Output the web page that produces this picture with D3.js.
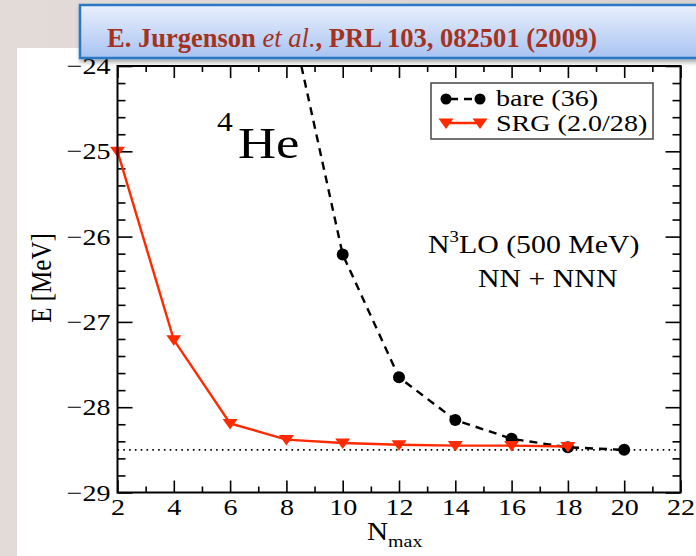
<!DOCTYPE html>
<html>
<head>
<meta charset="utf-8">
<script src="https://cdn.jsdelivr.net/npm/d3@7"></script>
<style>
  body { margin: 0; background: #ddd6d3; }
  svg { display: block; }
  text { font-family: "Liberation Serif", "DejaVu Serif", serif; }
</style>
</head>
<body>
<svg width="696" height="556"></svg>
<script>
// data
var srgN = [2, 4, 6, 8, 10, 12, 14, 16, 18];
var srgE = [-25.00, -27.21, -28.19, -28.38, -28.42, -28.44, -28.45, -28.45, -28.46];
var bareN = [8, 10, 12, 14, 16, 18, 20];
var bareE = [-23.2, -26.21, -27.65, -28.15, -28.37, -28.47, -28.50];
var xMajor = [2, 4, 6, 8, 10, 12, 14, 16, 18, 20, 22];
var yMajor = [-29, -28, -27, -26, -25, -24];
var converged = -28.5;

var width = 696, height = 556;
var plot = {left: 117.5, right: 680.5, top: 66, bottom: 492.5};
var sx = 1.17; // the slide image is a bit stretched sideways

var svg = d3.select('svg');

// slide background + white panel
var defs = svg.append('defs');
var bg = defs.append('linearGradient').attr('id', 'bg').attr('x1', 0).attr('x2', 1).attr('y1', 0).attr('y2', 0);
bg.append('stop').attr('offset', '0%').attr('stop-color', '#e2dbd8');
bg.append('stop').attr('offset', '100%').attr('stop-color', '#d8d1ce');
var tb = defs.append('linearGradient').attr('id', 'tb').attr('x1', 0).attr('x2', 0).attr('y1', 0).attr('y2', 1);
tb.append('stop').attr('offset', '0%').attr('stop-color', '#eaf0fd');
tb.append('stop').attr('offset', '100%').attr('stop-color', '#a8c3f1');
var sh = defs.append('filter').attr('id', 'sh').attr('x', '-10%').attr('y', '-20%').attr('width', '130%').attr('height', '160%');
sh.append('feDropShadow').attr('dx', 1).attr('dy', 3).attr('stdDeviation', 2).attr('flood-color', '#000').attr('flood-opacity', 0.35);
defs.append('clipPath').attr('id', 'clip').append('rect')
  .attr('x', plot.left).attr('y', plot.top)
  .attr('width', plot.right - plot.left).attr('height', plot.bottom - plot.top);

svg.append('rect').attr('width', width).attr('height', height).attr('fill', 'url(#bg)');
svg.append('rect').attr('x', 17).attr('y', 48).attr('width', width - 17).attr('height', height - 48).attr('fill', '#fff');

// scales
var xScale = d3.scaleLinear().domain([2, 22]).range([plot.left, plot.right]);
var yScale = d3.scaleLinear().domain([-29, -24]).range([plot.bottom, plot.top]);

var xMinor = d3.range(3, 22, 2);
var yMinor = d3.range(-29, -24.01, 0.2).filter(v => Math.abs(v - Math.round(v)) > 0.01);

function styleAxis(g) {
  g.select('.domain').remove();
  g.selectAll('line').attr('stroke', '#000').attr('stroke-width', 1.6);
  g.selectAll('text').attr('font-size', 24).attr('fill', '#000');
}

// bottom
svg.append('g').attr('transform', 'translate(0,' + plot.bottom + ')')
  .call(d3.axisBottom(xScale).tickValues(xMajor).tickSize(-12).tickPadding(5).tickFormat(d3.format('d')))
  .call(styleAxis)
  .call(g => g.selectAll('text').attr('transform', 'scale(' + sx + ',1)'));
svg.append('g').attr('transform', 'translate(0,' + plot.bottom + ')')
  .call(d3.axisBottom(xScale).tickValues(xMinor).tickSize(-6).tickFormat(''))
  .call(styleAxis);
// top
svg.append('g').attr('transform', 'translate(0,' + plot.top + ')')
  .call(d3.axisTop(xScale).tickValues(xMajor).tickSize(-12).tickFormat(''))
  .call(styleAxis);
svg.append('g').attr('transform', 'translate(0,' + plot.top + ')')
  .call(d3.axisTop(xScale).tickValues(xMinor).tickSize(-6).tickFormat(''))
  .call(styleAxis);
// left
svg.append('g').attr('transform', 'translate(' + plot.left + ',0)')
  .call(d3.axisLeft(yScale).tickValues(yMajor).tickSize(-15).tickPadding(7).tickFormat(d3.format('d')))
  .call(styleAxis)
  .call(g => g.selectAll('text').attr('transform', 'scale(' + sx + ',1)').attr('x', -7 / sx));
svg.append('g').attr('transform', 'translate(' + plot.left + ',0)')
  .call(d3.axisLeft(yScale).tickValues(yMinor).tickSize(-8).tickFormat(''))
  .call(styleAxis);
// right
svg.append('g').attr('transform', 'translate(' + plot.right + ',0)')
  .call(d3.axisRight(yScale).tickValues(yMajor).tickSize(-15).tickFormat(''))
  .call(styleAxis);
svg.append('g').attr('transform', 'translate(' + plot.right + ',0)')
  .call(d3.axisRight(yScale).tickValues(yMinor).tickSize(-8).tickFormat(''))
  .call(styleAxis);

// converged value
svg.append('line')
  .attr('x1', plot.left).attr('x2', plot.right)
  .attr('y1', yScale(converged)).attr('y2', yScale(converged))
  .attr('stroke', '#000').attr('stroke-width', 1.6).attr('stroke-dasharray', '1.6,4.2');

// bare (36)
var bare = bareN.map((n, i) => ({n: n, e: bareE[i]}));
var line = d3.line().x(d => xScale(d.n)).y(d => yScale(d.e));
var clipped = svg.append('g').attr('clip-path', 'url(#clip)');
clipped.append('path').datum(bare)
  .attr('d', line).attr('fill', 'none')
  .attr('stroke', '#000').attr('stroke-width', 2.4).attr('stroke-dasharray', '8,6');
clipped.selectAll('circle').data(bare).enter().append('circle')
  .attr('cx', d => xScale(d.n)).attr('cy', d => yScale(d.e)).attr('r', 6).attr('fill', '#000');

// SRG (2.0/28)
var srg = srgN.map((n, i) => ({n: n, e: srgE[i]}));
var red = '#ff2a00';
var tri = 'M-7.5,-4.5L7.5,-4.5L0,6Z';
svg.append('path').datum(srg)
  .attr('d', line).attr('fill', 'none').attr('stroke', red).attr('stroke-width', 2.4);
svg.selectAll('.tri').data(srg).enter().append('path').attr('class', 'tri')
  .attr('d', tri).attr('fill', red)
  .attr('transform', d => 'translate(' + xScale(d.n) + ',' + yScale(d.e) + ')');

// frame
svg.append('rect')
  .attr('x', plot.left).attr('y', plot.top)
  .attr('width', plot.right - plot.left).attr('height', plot.bottom - plot.top)
  .attr('fill', 'none').attr('stroke', '#000').attr('stroke-width', 2);

// legend
svg.append('rect').attr('x', 431).attr('y', 83).attr('width', 222).attr('height', 56)
  .attr('fill', '#fff').attr('stroke', '#444').attr('stroke-width', 1.5);
svg.append('line').attr('x1', 446).attr('x2', 480).attr('y1', 99).attr('y2', 99)
  .attr('stroke', '#000').attr('stroke-width', 2.4).attr('stroke-dasharray', '8,6').attr('stroke-dashoffset', -4);
[446, 480].forEach(cx => svg.append('circle').attr('cx', cx).attr('cy', 99).attr('r', 5.5).attr('fill', '#000'));
svg.append('line').attr('x1', 446).attr('x2', 480).attr('y1', 123).attr('y2', 123)
  .attr('stroke', red).attr('stroke-width', 2.4);
[446, 480].forEach(cx => svg.append('path').attr('d', tri).attr('fill', red)
  .attr('transform', 'translate(' + cx + ',123)'));

function label(x, y, size, str) {
  return svg.append('text')
    .attr('transform', 'translate(' + x + ',' + y + ') scale(' + sx + ',1)')
    .attr('font-size', size).attr('fill', '#000').text(str);
}
label(496, 106, 24, 'bare (36)');
label(496, 131, 24, 'SRG (2.0/28)');

// annotations
label(217, 131, 27, '4');
label(238, 158, 45, 'He');

var t1 = svg.append('text')
  .attr('transform', 'translate(428,253) scale(' + sx + ',1)')
  .attr('font-size', 25.5).attr('fill', '#000');
t1.append('tspan').text('N');
t1.append('tspan').attr('font-size', 16).attr('dy', -11).text('3');
t1.append('tspan').attr('dy', 11).text('LO (500 MeV)');
label(478, 287, 25.5, 'NN + NNN');

// axis titles
svg.append('text')
  .attr('transform', 'translate(51,278) rotate(-90) scale(1,' + sx + ')')
  .attr('text-anchor', 'middle').attr('font-size', 25).attr('fill', '#000')
  .text('E [MeV]');
var xl = svg.append('text')
  .attr('transform', 'translate(367,540) scale(' + sx + ',1)')
  .attr('font-size', 25).attr('fill', '#000');
xl.append('tspan').text('N');
xl.append('tspan').attr('font-size', 17).attr('dy', 7).text('max');

// title box on top of the slide
svg.append('rect').attr('x', 80).attr('y', 5).attr('width', 640).attr('height', 53)
  .attr('fill', 'url(#tb)').attr('stroke', '#2b78c3').attr('stroke-width', 2.5)
  .attr('filter', 'url(#sh)');
var title = svg.append('text').attr('x', 107).attr('y', 47)
  .attr('font-size', 27).attr('font-weight', 'bold').attr('fill', '#a3321f')
  .attr('textLength', 490).attr('lengthAdjust', 'spacingAndGlyphs');
title.append('tspan').text('E. Jurgenson ');
title.append('tspan').attr('font-style', 'italic').attr('font-weight', 'normal').text('et al.');
title.append('tspan').text(', PRL 103, 082501 (2009)');
</script>
</body>
</html>
